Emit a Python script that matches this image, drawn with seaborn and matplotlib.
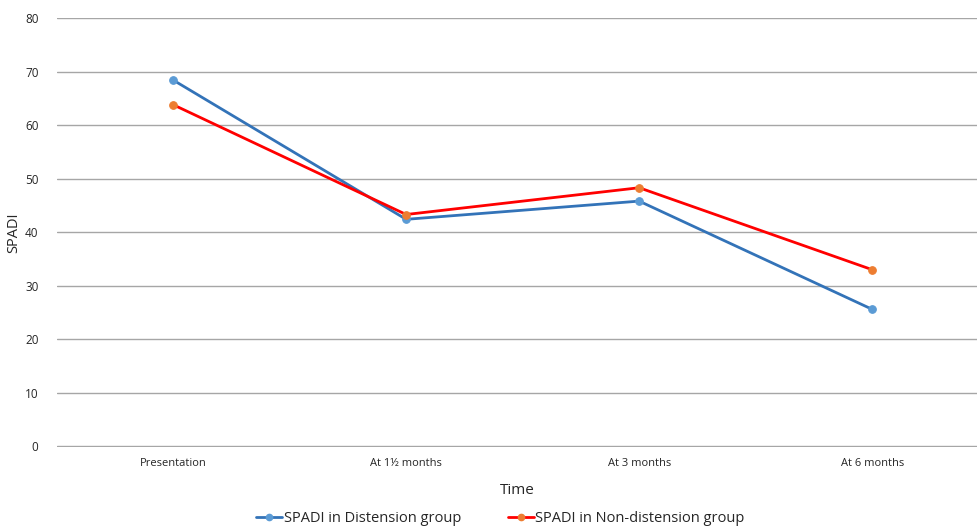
import matplotlib
matplotlib.use("Agg")
import matplotlib.pyplot as plt
from matplotlib.lines import Line2D
import seaborn as sns
import pandas as pd

# data
time_points = ["Presentation", "At 1\u00bd months", "At 3 months", "At 6 months"]
distension = [68.4, 42.4, 45.8, 25.6]
non_distension = [63.8, 43.3, 48.3, 33.0]
series_names = ["SPADI in Distension group", "SPADI in Non-distension group"]
y_ticks = [0, 10, 20, 30, 40, 50, 60, 70, 80]

sns.set_style("white")
plt.rcParams['font.family'] = ['Open Sans', 'DejaVu Sans']

df = pd.DataFrame({
    "x": list(range(len(time_points))) * 2,
    "SPADI": distension + non_distension,
    "group": [series_names[0]] * 4 + [series_names[1]] * 4,
})

fig = plt.figure(figsize=(9.77, 5.28), dpi=100)
ax = fig.add_axes([0.058, 0.153, 0.942, 0.813])

line_cols = ["#3373B8", "#FF0000"]
mark_cols = ["#5B9BD5", "#ED7D31"]

for name, lc, mc in zip(series_names, line_cols, mark_cols):
    sub = df[df["group"] == name]
    sns.lineplot(data=sub, x="x", y="SPADI", ax=ax, color=lc, linewidth=2,
                 marker="o", markersize=5.5, markerfacecolor=mc, markeredgecolor=mc,
                 legend=False)

ax.set_ylim(-0.15, 80)
ax.set_yticks(y_ticks)
ax.set_xlim(-0.5, 3.45)
ax.set_xticks(range(len(time_points)))
ax.set_xticklabels(time_points, fontsize=8)
ax.tick_params(axis="y", labelsize=8.5, length=0, pad=13)
ax.tick_params(axis="x", length=0, pad=8)
ax.yaxis.grid(True, color="#A6A6A6", linewidth=1)
ax.set_axisbelow(True)
for s in ax.spines.values():
    s.set_visible(False)

ax.set_xlabel("Time", fontsize=11, labelpad=10)
ax.set_ylabel("SPADI", fontsize=10.5)
ax.yaxis.set_label_coords(-0.038, 0.5)

handles = [
    Line2D([0], [0], color=lc, linewidth=2, marker="o", markersize=4.5,
           markerfacecolor=mc, markeredgecolor=mc)
    for lc, mc in zip(line_cols, mark_cols)
]
fig.legend(handles, series_names, loc="lower center", bbox_to_anchor=(0.512, -0.022),
           ncol=2, frameon=False, fontsize=10.5, handlelength=1.8, handletextpad=0.1,
           columnspacing=3.2)

fig.savefig("out.png", dpi=100)
